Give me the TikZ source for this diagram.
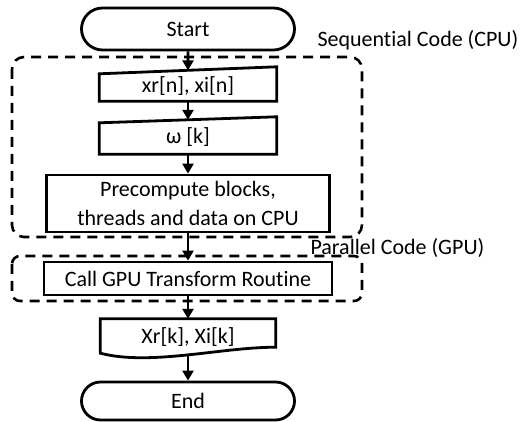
\documentclass[tikz,border=0pt]{standalone}
\usepackage{fontspec}
\setmainfont{Carlito}[Ligatures=NoCommon]
\usetikzlibrary{shapes,arrows,arrows.meta,positioning,calc}

\begin{document}
\begin{tikzpicture}[x=1pt, y=-1pt,
  every node/.style={font=\fontsize{22}{29}\selectfont},
  terminal/.style={draw, line width=2.8pt, rounded rectangle, minimum width=213pt, inner sep=0pt},
  process/.style={draw, line width=2.8pt, rectangle, inner sep=0pt, align=center},
  iobox/.style={rectangle, inner sep=0pt, minimum width=177pt},
  outline/.style={line width=2.8pt},
  region/.style={line width=2.6pt, dash pattern=on 10pt off 7pt},
  flow/.style={line width=2.6pt, -{Triangle[length=10pt,width=11pt]}}]
  \useasboundingbox (0,0) rectangle (520,422);

  % Dashed regions
  \draw[region, rounded corners=12pt] (12,57) rectangle (362,237);
  \draw[region, rounded corners=8pt] (12,256) rectangle (362,301);
  \node[anchor=base west] (seqlabel) at (314,47) {Sequential Code (CPU)};
  \node[anchor=base west] (parlabel) at (307,255) {Parallel Code (GPU)};

  % Flow steps
  \node[terminal, minimum height=42pt] (start) at (188,29) {Start};
  \node[iobox, minimum height=30.5pt] (xr) at (188,85.75) {xr[n], xi[n]};
  \node[iobox, minimum height=34pt] (omega) at (188,137) {ω [k]};
  \node[process, minimum width=283pt, minimum height=57pt] (precomp) at (188,203.5)
    {Precompute blocks,\\threads and data on CPU};
  \node[process, minimum width=288pt, minimum height=33pt] (gpucall) at (188,278.5)
    {Call GPU Transform Routine};
  \node[iobox, minimum width=175pt, minimum height=36pt] (result) at (188,337) {Xr[k], Xi[k]};
  \node[terminal, minimum height=38pt] (end) at (188,401) {End};

  % Manual input outlines
  \draw[outline] (xr.south west) -- (xr.south east) -- ([yshift=3.5pt]xr.north east)
    -- ([yshift=-3.5pt]xr.north west) -- cycle;
  \draw[outline] (omega.south west) -- (omega.south east) -- ([yshift=3pt]omega.north east)
    -- ([yshift=-3pt]omega.north west) -- cycle;

  % Document outline
  \draw[outline] ([yshift=2pt]result.south west) -- (result.north west) -- (result.north east)
    -- ([yshift=8pt]result.south east)
    .. controls ([xshift=-55pt,yshift=8pt]result.south east) and ([xshift=50pt,yshift=-11pt]result.south west)
    .. ([yshift=2pt]result.south west) -- cycle;

  % Arrows
  \draw[flow] (start) -- (xr);
  \draw[flow] (xr) -- (omega);
  \draw[flow] (omega) -- (precomp);
  \draw[flow] (precomp) -- (gpucall);
  \draw[flow] (gpucall) -- (result);
  \draw[flow] (result) -- (end);
\end{tikzpicture}
\end{document}
